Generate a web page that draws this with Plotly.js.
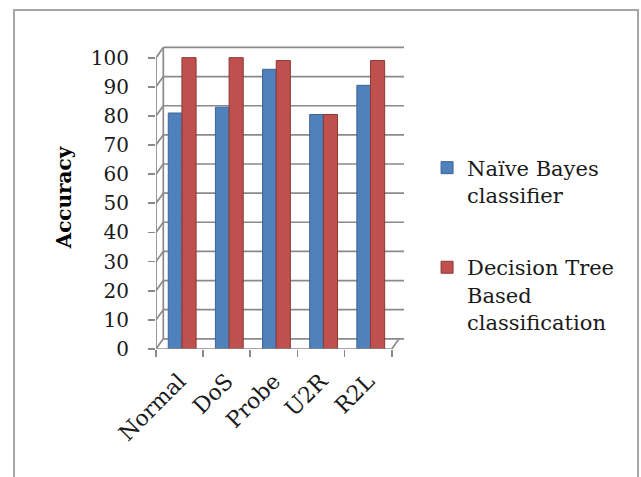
<!DOCTYPE html>
<html>
<head>
<meta charset="utf-8">
<script src="https://cdn.plot.ly/plotly-3.0.1.min.js"></script>
<style>
  html, body { margin: 0; padding: 0; background: #fff; }
  #frame { position: absolute; left: 13px; top: 9px; width: 622px; height: 480px;
           border-left: 2px solid #a6a6a6; border-top: 2px solid #a6a6a6; border-right: 2px solid #a6a6a6; }
  #chart { position: absolute; left: 0; top: 0; width: 641px; height: 477px; }
</style>
</head>
<body>
<div id="frame"></div>
<div id="chart"></div>
<script>
const categories = ["Normal", "DoS", "Probe", "U2R", "R2L"];
const naiveBayes = [81, 83, 96, 80.5, 90.5];
const decisionTree = [100, 100, 99, 80.5, 99];
const seriesNames = ["Naïve Bayes<br>classifier", "Decision Tree<br>Based<br>classification"];
const yTicks = [0, 10, 20, 30, 40, 50, 60, 70, 80, 90, 100];

const FONT = "DejaVu Serif, Liberation Serif, serif";
const gridColor = "#8a8a8a";
const backDx = 0.155, backDy = 3.5;
const xMin = -0.5, xMax = 4.76;

const shapes = [];
yTicks.forEach(v => {
  shapes.push({type: "line", xref: "x", yref: "y", x0: xMin + backDx, x1: xMax, y0: v + backDy, y1: v + backDy,
               line: {color: gridColor, width: 1.7}, layer: "below"});
  shapes.push({type: "line", xref: "x", yref: "y", x0: xMin, x1: xMin + backDx, y0: v, y1: v + backDy,
               line: {color: gridColor, width: 1.7}, layer: "below"});
});
shapes.push({type: "line", xref: "x", yref: "y", x0: xMin + backDx, x1: xMin + backDx, y0: backDy, y1: 100 + backDy,
             line: {color: gridColor, width: 1.7}, layer: "below"});
shapes.push({type: "line", xref: "x", yref: "y", x0: xMin, x1: xMin, y0: 0, y1: 100,
             line: {color: gridColor, width: 1.7}, layer: "above"});
shapes.push({type: "line", xref: "x", yref: "y", x0: xMin, x1: 4.5, y0: 0, y1: 0,
             line: {color: gridColor, width: 1.7}, layer: "above"});
shapes.push({type: "line", xref: "x", yref: "y", x0: 4.5, x1: 4.5 + backDx, y0: 0, y1: backDy,
             line: {color: gridColor, width: 1.7}, layer: "above"});

const traces = [
  {type: "bar", x: categories, y: naiveBayes, name: seriesNames[0], legendgroup: "a",
   marker: {color: "#4F81BD", line: {color: "#3c6496", width: 1}}, offset: -0.24, width: 0.29},
  {type: "bar", x: categories, y: decisionTree, name: seriesNames[1], legendgroup: "b",
   marker: {color: "#C0504D", line: {color: "#8c3836", width: 1}}, offset: 0.05, width: 0.3}
];

const layout = {
  width: 641, height: 477,
  margin: {l: 156, r: 237, t: 46, b: 128},
  paper_bgcolor: "rgba(0,0,0,0)", plot_bgcolor: "rgba(0,0,0,0)",
  font: {family: FONT, color: "#1a1a1a", size: 20},
  barmode: "group",
  showlegend: true,
  legend: {x: 1.093, xanchor: "left", y: 0.665, yanchor: "top", valign: "top",
           font: {family: FONT, size: 21, color: "#1a1a1a"}, tracegroupgap: 42, itemwidth: 30},
  xaxis: {type: "category", range: [xMin, xMax], showgrid: false, zeroline: false, showline: false,
          tickson: "boundaries", ticks: "outside", ticklen: 7, tickcolor: gridColor, tickwidth: 1.7,
          ticklabelstandoff: 14,
          tickangle: -45, tickfont: {family: FONT, size: 22, color: "#1a1a1a"}, fixedrange: true},
  yaxis: {range: [0, 104], tickvals: yTicks, ticktext: yTicks.map(String), showgrid: false, zeroline: false,
          showline: false, ticks: "outside", ticklen: 7, tickcolor: gridColor, tickwidth: 1.7,
          ticklabelstandoff: 15, tickfont: {family: FONT, size: 20, color: "#1a1a1a"},
          title: {text: "<b>Accuracy</b>", font: {family: FONT, size: 20, color: "#000"}, standoff: 13},
          fixedrange: true},
  shapes: shapes
};

Plotly.newPlot("chart", traces, layout, {displayModeBar: false, staticPlot: true});
</script>
</body>
</html>
